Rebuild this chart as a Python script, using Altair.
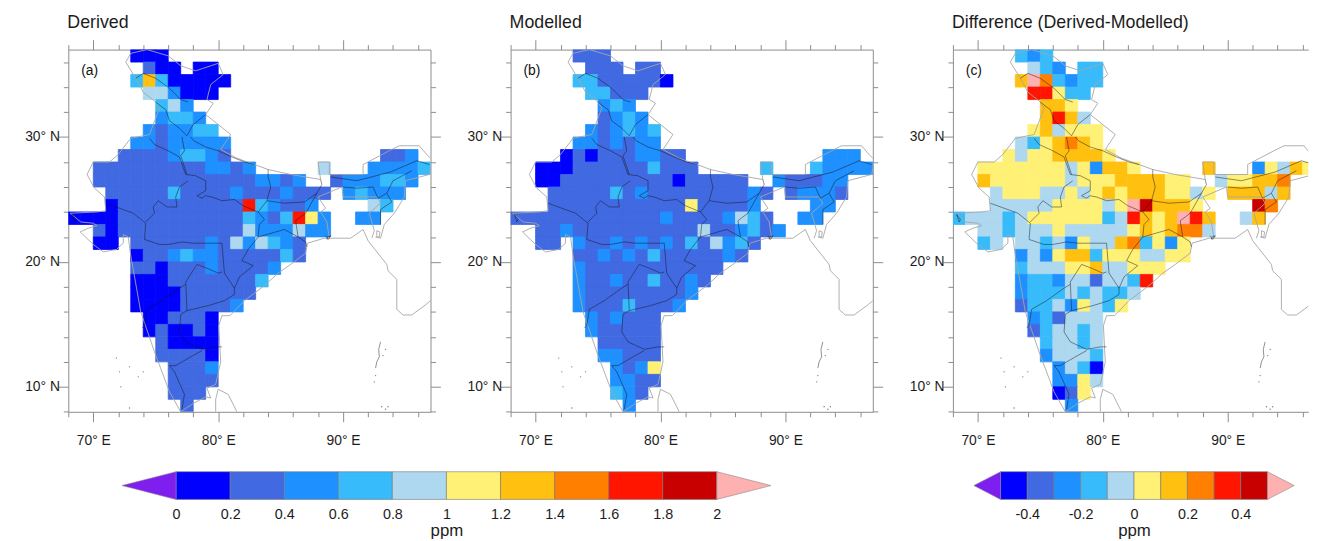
import altair as alt
import pandas as pd

FONT = "Liberation Sans"
CLASSES = list("0123456789a") + ["p"]
COLORS = ["#0000FF", "#4169E1", "#1E90FF", "#38BBFA", "#ADD8F0", "#FFF176",
          "#FFC010", "#FF7F00", "#FF1500", "#C80000", "#FFB0B0", "#7F1FEF"]

# (latitude of the cell's south edge, first longitude, classes: one char per 1 degree cell)
derived_rows = [
    (36, 73, "000"), (35, 74, "100.00"), (34, 73, "36300000"), (33, 74, "442000"),
    (32, 75, "342"), (31, 75, "2332"), (30, 74, "212233"), (29, 73, "22122222"),
    (28, 72, "111123321"), (28, 93, "112"),
    (27, 70, "111111111221" + "2"), (27, 88, "4"), (27, 92, "22223"),
    (26, 70, "1111111111111" + "2212"), (26, 89, "1222332"),
    (25, 71, "11111311112"), (25, 82, "1112111"), (25, 90, "23222"),
    (24, 71, "01111111111"), (24, 82, "832112"), (24, 92, "43"),
    (23, 68, "0000" + "1111111111"), (23, 82, "321385" + "2"), (23, 91, "22"),
    (22, 70, "10" + "1111111111"), (22, 82, "4222422"),
    (21, 70, "00"), (21, 73, "111111" + "2142"), (21, 83, "4321"),
    (20, 73, "0112322" + "1111"), (20, 84, "131"),
    (19, 73, "1101112" + "11112"), (18, 73, "000" + "111111" + "13"),
    (17, 73, "0000" + "111111"), (16, 73, "0000" + "1111" + "2"),
    (15, 74, "00" + "111" + "0"), (14, 74, "01" + "00" + "1" + "0"),
    (13, 75, "1" + "0000"), (12, 75, "1111" + "0"), (11, 76, "111" + "2"),
    (10, 76, "1111"), (9, 76, "111"), (8, 77, "1"),
]
modelled_rows = [
    (36, 73, "111"), (35, 74, "111.11"), (34, 73, "33111110"), (33, 74, "33111"),
    (32, 75, "232"), (31, 75, "1232"), (30, 74, "212323"), (29, 73, "22121" + "22"),
    (28, 72, "010111" + "2211"), (28, 93, "222"),
    (27, 70, "0001111113" + "111"), (27, 88, "3"), (27, 92, "32222"),
    (26, 70, "00" + "111111111" + "0" + "11111"), (26, 89, "2111"), (26, 93, "22"),
    (25, 71, "11111312" + "1111" + "1111" + "21"), (25, 90, "12221"),
    (24, 71, "11111111111" + "5" + "1111" + "2"), (24, 92, "22"),
    (23, 68, "111111111111" + "2" + "1111" + "2431"), (23, 91, "22"),
    (22, 70, "112" + "1111111111" + "4" + "11" + "2" + "3" + "1" + "2"),
    (21, 70, "11"), (21, 73, "211" + "2121" + "2" + "1" + "31" + "4" + "2" + "3" + "1"),
    (20, 73, "1121" + "21" + "3" + "11111" + "21"),
    (19, 73, "2" + "11111111111"), (18, 73, "211" + "2" + "11" + "3" + "11" + "21"),
    (17, 73, "2" + "11111111" + "2"), (16, 73, "2111" + "3" + "111" + "2"),
    (15, 74, "21" + "2" + "111"), (14, 74, "2" + "11111"), (13, 75, "11111"),
    (12, 75, "22" + "111"), (11, 76, "2125"), (10, 76, "2211"), (9, 76, "321"), (8, 77, "2"),
]
diff_rows = [
    (36, 73, "323"), (35, 74, "432.33"), (34, 73, "6a73233"),
    (33, 74, "88533"), (32, 75, "665"), (31, 75, "6864"), (30, 74, "564555"),
    (29, 73, "43567" + "65"), (28, 72, "54556" + "6665"),
    (27, 70, "55555554" + "5" + "2" + "665"), (27, 88, "6"), (27, 92, "25465"),
    (26, 70, "6555555" + "4" + "555" + "6666" + "55"), (26, 89, "455667"),
    (25, 71, "45554" + "45" + "4" + "5" + "6" + "5" + "666" + "55" + "45"), (25, 90, "666"), (25, 93, "46"),
    (24, 71, "44444" + "555" + "5" + "4" + "5" + "a" + "9" + "666" + "5"), (24, 92, "97"),
    (23, 68, "3444" + "3" + "4" + "5555" + "5" + "5" + "3" + "4" + "8" + "6" + "5" + "6" + "a" + "8" + "6"), (23, 91, "46"),
    (22, 70, "44" + "3" + "444" + "5" + "44444" + "5" + "6" + "5" + "6" + "77" + "4"),
    (21, 70, "34"), (21, 73, "44" + "3" + "4" + "2" + "5" + "44" + "6" + "7" + "3" + "5" + "2" + "5"),
    (20, 73, "2425" + "66" + "3" + "555" + "44" + "55"),
    (19, 73, "3444" + "55" + "6" + "44" + "555"),
    (18, 73, "2332" + "44" + "1" + "44" + "38"),
    (17, 73, "2333" + "4" + "3" + "4" + "33" + "4"),
    (16, 73, "133" + "4" + "2" + "5" + "4" + "3" + "5"),
    (15, 74, "231" + "444"), (14, 74, "13" + "44" + "3" + "4"), (13, 75, "3" + "44" + "3" + "4"),
    (12, 75, "2" + "444" + "3"), (11, 76, "2" + "4" + "3" + "0"), (10, 76, "22" + "5" + "4"),
    (9, 76, "015"), (8, 77, "2"),
]

coast = [(68.15, 23.9), (69, 23.2), (70, 23.1), (70.3, 22.9), (69.6, 22.7), (68.95, 22.4), (70, 21.4),
         (70.8, 20.8), (71.85, 21), (72.4, 21.5), (72.4, 22.2), (72.8, 22), (73.03, 20.3), (73.2, 19.4),
         (73.8, 16), (74.9, 12.8), (76.1, 9.6), (77, 8), (78.05, 8.7), (79, 9.2), (79.4, 9.1), (79.1, 9.9),
         (79.8, 10.2), (80.2, 12), (80.05, 14.9), (80.3, 15.7), (80.95, 15.7), (82.1, 16.9), (83.7, 18.1),
         (84.8, 19.1), (85.8, 19.8), (87, 20.7), (87.15, 21.5), (88.5, 21.9), (90.6, 21.9), (91.6, 22.6),
         (92, 21.7), (93.5, 19.8), (93.6, 19.3), (94.3, 18.6), (94.3, 16.2), (94.8, 15.75), (95.5, 15.75),
         (96.65, 16.6), (97, 16.9)]
north_border = [(68.15, 23.9), (70.3, 24), (71, 24.1), (70.9, 25.2), (70.1, 25.9), (69.5, 27), (70, 28),
                (71.3, 28), (72, 28.6), (73, 29.9), (74.5, 30.2), (75.3, 32.3), (75, 32.8), (74, 33.6),
                (73.4, 34.7), (72.6, 36), (73, 36.7), (74.3, 37), (76, 36.5), (77, 35.7), (78.2, 35.3),
                (80, 35.9), (80.4, 35), (79.4, 34.2), (79.1, 33), (79.6, 32.7), (79, 31.8), (80, 31),
                (81, 30.2), (80.2, 29), (81.5, 28.3), (82.9, 27.8), (84, 27.4), (85.8, 27), (88.2, 26.6),
                (88, 28), (88.9, 28), (88.9, 27), (91.6, 27), (91.6, 27.8), (93.7, 28.9), (94.5, 29.3),
                (96.1, 29.3), (96.7, 28.6), (97, 28.3)]
east_border = [(97, 27.5), (96.9, 27), (95, 26.5), (94.9, 25.2), (94.1, 23.9), (93.3, 23), (93, 21.9), (92.6, 22)]
bangla_border = [(88, 25.2), (89.9, 26), (90, 25.2), (92.7, 25.2), (93, 24.7), (92.1, 23.9), (92.5, 22.5), (92.3, 21.9)]
bangla_west = [(88, 25.2), (88.6, 24.3), (88.2, 24), (88.7, 23.2), (88.9, 21.9)]
sri_lanka = [(79.8, 8), (79.8, 9), (80, 9.8), (80.8, 9.4), (81.5, 8)]
ramree = [(92.7, 22.5), (92.95, 22.4), (92.9, 22), (92.7, 22), (92.7, 22.5)]
gray_lines = [coast, north_border, east_border, bangla_border, bangla_west, sri_lanka, ramree]

state_lines = [
    [(73.4, 34.7), (74, 35.1), (75, 34.7), (76.1, 33.9), (77, 33), (77.6, 32.8)],
    [(75, 32.8), (75.5, 32.4), (75.8, 32.2), (76.1, 31.3), (76.9, 30.7), (77.5, 30.1), (78, 31), (79, 31.8)],
    [(77.1, 30), (77.3, 28.9), (77, 28.5), (77.5, 27)],
    [(77.8, 30), (78.05, 29.7), (79, 29.2), (80, 28.9), (81.1, 28.4), (82.1, 28), (82.9, 27.8)],
    [(74.5, 29.9), (74.9, 29.4), (76, 28.9), (76.9, 28.4), (77.4, 27), (78.2, 26.9), (79, 26.5), (79, 25.7),
     (78.3, 25.3), (78.7, 25.1), (78.97, 25.3), (79.5, 25.2), (80.3, 24.9), (81.3, 25), (82, 24.5), (83.2, 24),
     (83.9, 24.9), (84.2, 26), (84, 26.8), (84, 27.4)],
    [(77.6, 26.5), (76.9, 26), (76.6, 25.2), (76.7, 24.4), (75.9, 24.4), (75.5, 24.7), (75.2, 24.9), (74.8, 24.4),
     (74.9, 23.9), (74.2, 23.2)],
    [(71, 24.7), (73.2, 23.9), (74.2, 23.1), (74.1, 21.8)],
    [(74.1, 21.8), (75.3, 21.4), (76, 21.4), (77.1, 21.6), (78, 21.5), (79, 21.5), (80.3, 21.5), (80.5, 19.1),
     (81.3, 17.9)],
    [(83.2, 24), (83.7, 23.4), (83.3, 23), (83.2, 22), (82.4, 21), (81.9, 20.1), (82.8, 19.7), (81.7, 18.8), (81.3, 17.9)],
    [(77.4, 18.4), (78.3, 19.8), (79.1, 19.5), (80, 19.1), (80.3, 19.2)],
    [(77.4, 18.4), (77.5, 16.1), (79.2, 16.5), (80.5, 16.9), (81.3, 17.4), (81.3, 17.9)],
    [(77.4, 18.2), (76.9, 17.9), (75.5, 16.9), (74.3, 16.2), (74.1, 14.9), (73.9, 14.7)],
    [(77.5, 16.1), (77, 15.8), (76.9, 14.4), (77.4, 13.6), (78.7, 13), (79.8, 13.2), (80.3, 13.2)],
    [(78.7, 12.9), (77.8, 12.4), (76.6, 11.7), (76.1, 11.7), (76.5, 11.2), (77.3, 9.4), (77.1, 8.2)],
    [(83.2, 22), (85.3, 22.6), (86.4, 22), (87, 21.6), (87.1, 21.2)],
    [(83.9, 24.9), (85.3, 24.7), (86.9, 24.8), (87.9, 25.5), (87, 23.9), (86.2, 23.3), (86.4, 22)],
    [(87.9, 25.5), (88.3, 26.2), (88.2, 26.6)],
    [(89, 26.8), (91.1, 26.5), (93.8, 27.2), (95.9, 28.1), (96.9, 27.8)],
    [(90, 26), (91.1, 25.9), (92.4, 26), (92.8, 25.1)],
    [(95.5, 27.3), (94, 26.5), (93.5, 25.5), (93.9, 24.8), (93, 24.2), (93, 23)],
    [(93.5, 25.5), (92.8, 25.1)],
    [(68.3, 23.8), (68.6, 23.4), (68.5, 23.2), (68.3, 23.8)],
    [(88.6, 22.1), (88.8, 21.8), (89, 22.1), (88.75, 22), (88.7, 21.8)],
    [(93, 13.6), (92.85, 13), (92.9, 12.4), (92.7, 12), (92.6, 11.5)],
]
islands_lon = [71.85, 72.1, 72.9, 73.6, 74.0, 72.2, 72.9, 93.1, 93.4, 93.6, 92.6, 92.5, 93.4, 93.2]
islands_lat = [12.3, 11.2, 11.6, 10.8, 11.2, 10, 8.3, 8.4, 8.2, 8.4, 10.9, 10.4, 13, 12.5]

BAR_A_LABELS = [0, 0.2, 0.4, 0.6, 0.8, 1, 1.2, 1.4, 1.6, 1.8, 2]
BAR_B_LABELS = [-0.4, -0.2, 0, 0.2, 0.4]
GRAY = "#8c8c8c"
DEG = 12.634


def cells(rows):
    out = []
    for lat, start, s in rows:
        for i, c in enumerate(s):
            if c != ".":
                out.append({"lon": start + i, "lon2": start + i + 1, "lat": lat, "lat2": lat + 1, "c": c})
    return pd.DataFrame(out)


def lines(groups):
    return pd.DataFrame([{"lon": p[0], "lat": p[1], "seg": g, "i": i}
                         for g, seg in enumerate(groups) for i, p in enumerate(seg)])


GRAY_DF = lines(gray_lines)
STATE_DF = lines(state_lines)
ISLE_DF = pd.DataFrame({"lon": islands_lon, "lat": islands_lat})
ONE = pd.DataFrame({"lon": [70], "lat": [20]})
xvals = list(range(68, 98, 2))
yvals = list(range(8, 38, 2))


def axis(orient, labels=False):
    is_x = orient in ("top", "bottom")
    unit = "E" if is_x else "N"
    kw = dict(orient=orient, title=None, grid=False, domain=True, domainColor=GRAY, domainWidth=1,
              tickColor=GRAY, tickWidth=1, values=xvals if is_x else yvals,
              tickSize={"condition": {"test": "datum.value % 10 === 0", "value": 10}, "value": 5})
    if labels:
        kw.update(labelExpr=f"datum.value % 10 === 0 ? datum.value + '° {unit}' : ''", labelFont=FONT,
                  labelFontSize=14, labelColor="#1c1c1c", labelOverlap=False, labelBound=False, labelFlush=False,
                  labelPadding=12 if is_x else -1, labelAngle=0)
    else:
        kw.update(labels=False)
    return alt.Axis(**kw)


def panel(rows, title, tag, right=97.0, right_axis=True):
    xs = alt.Scale(domain=[68, right], nice=False, zero=False)
    ys = alt.Scale(domain=[8, 37], nice=False, zero=False)
    X = alt.X("lon:Q", scale=xs, axis=None)
    Y = alt.Y("lat:Q", scale=ys, axis=None)
    color_scale = alt.Scale(domain=CLASSES, range=COLORS)
    grid = alt.Chart(cells(rows)).mark_rect(strokeWidth=0.8, clip=True).encode(
        x=X, x2="lon2:Q", y=Y, y2="lat2:Q",
        color=alt.Color("c:N", scale=color_scale, legend=None),
        stroke=alt.Stroke("c:N", scale=color_scale, legend=None))
    gray = alt.Chart(GRAY_DF).mark_line(color="#a6a6a6", strokeWidth=0.9, clip=True).encode(
        x=X, y=Y, detail="seg:N", order="i:Q")
    state = alt.Chart(STATE_DF).mark_line(color="#111111", strokeWidth=0.55, clip=True, opacity=0.85).encode(
        x=X, y=Y, detail="seg:N", order="i:Q")
    isles = alt.Chart(ISLE_DF).mark_point(color="#444444", size=2, filled=True, clip=True).encode(x=X, y=Y)
    tag_df = pd.DataFrame({"lon": [69.03], "lat": [35.3], "t": [tag]})
    tag_text = alt.Chart(tag_df).mark_text(align="left", baseline="middle", font=FONT, fontSize=14,
                                           color="#111111").encode(x=X, y=Y, text="t:N")
    main_axes = alt.Chart(ONE).mark_point(opacity=0).encode(
        x=alt.X("lon:Q", scale=xs, axis=axis("bottom", True)),
        y=alt.Y("lat:Q", scale=ys, axis=axis("left", True)))
    top_axes = alt.Chart(ONE).mark_point(opacity=0).encode(
        x=alt.X("lon:Q", scale=xs, axis=axis("top")),
        y=alt.Y("lat:Q", scale=ys, axis=axis("right") if right_axis else None))
    layers = alt.layer(grid, gray, state, isles, tag_text, main_axes, top_axes)
    return layers.resolve_axis(x="independent", y="independent").properties(
        width=(right - 68) * DEG, height=29 * DEG,
        title=alt.TitleParams(title, anchor="start", frame="group", font=FONT, fontSize=18, fontWeight="normal",
                              color="#1c1c1c", offset=7, dx=-1))


def colorbar(lo, step, labels, left_val, right_val, width, title_x):
    edges = [lo + step * i for i in range(10)]
    boxes = pd.DataFrame({"a": edges, "b": [e + step for e in edges], "c": list("0123456789"),
                          "y": [0] * 10, "y2": [1] * 10})
    hi = lo + step * 10
    xs = alt.Scale(domain=[left_val, right_val], nice=False, zero=False)
    ys = alt.Scale(domain=[0, 1], nice=False, zero=False)
    color_scale = alt.Scale(domain=CLASSES, range=COLORS)
    X = alt.X("a:Q", scale=xs, axis=alt.Axis(
        orient="bottom", values=labels, title="ppm", domain=False, ticks=False, grid=False, labelFont=FONT,
        labelFontSize=14.5, labelColor="#1c1c1c", labelPadding=8, labelOverlap=False, labelBound=False,
        labelFlush=False, labelExpr="'' + datum.value", titleFont=FONT, titleFontSize=17, titleFontWeight="normal",
        titleColor="#1c1c1c", titleX=title_x, titleY=37, titleBaseline="alphabetic", titleAlign="center",
        titleAnchor="start"))
    Y = alt.Y("y:Q", scale=ys, axis=None)
    bars = alt.Chart(boxes).mark_rect(stroke="#777777", strokeWidth=0.6).encode(
        x=X, x2="b:Q", y=Y, y2="y2:Q",
        color=alt.Color("c:N", scale=color_scale, legend=None))
    low = pd.DataFrame({"a": [lo - step, lo], "y": [0.5, 0], "y2": [0.5, 1]})
    high = pd.DataFrame({"a": [hi, hi + step], "y": [0, 0.5], "y2": [1, 0.5]})
    left_tip = alt.Chart(low).mark_area(color=COLORS[11], stroke="#888888", strokeWidth=0.6).encode(x=X, y=Y, y2="y2:Q")
    right_tip = alt.Chart(high).mark_area(color=COLORS[10], stroke="#888888", strokeWidth=0.6).encode(x=X, y=Y, y2="y2:Q")
    return alt.layer(bars, left_tip, right_tip).properties(width=width, height=28)


a = panel(derived_rows, "Derived", "(a)")
b = panel(modelled_rows, "Modelled", "(b)")
c = panel(diff_rows, "Difference (Derived-Modelled)", "(c)", right=96.45, right_axis=False)
bar1 = colorbar(0, 0.2, BAR_A_LABELS, (68 - 177) / 273.5, (783 - 177) / 273.5, 715, 382.5)
bar2 = colorbar(-0.5, 0.1, BAR_B_LABELS, -0.6, 0.6, 324, 162)

top = alt.hconcat(a, b, c, spacing=80.4, bounds="flush")
bottom = alt.hconcat(bar1, bar2, spacing=201, bounds="flush")
chart = alt.vconcat(top, bottom, spacing=22).properties(
    padding={"left": 16, "top": 3, "right": 0, "bottom": 0}
).configure_view(stroke=None)

chart.save("out.html", embed_options={"renderer": "svg", "actions": False})
